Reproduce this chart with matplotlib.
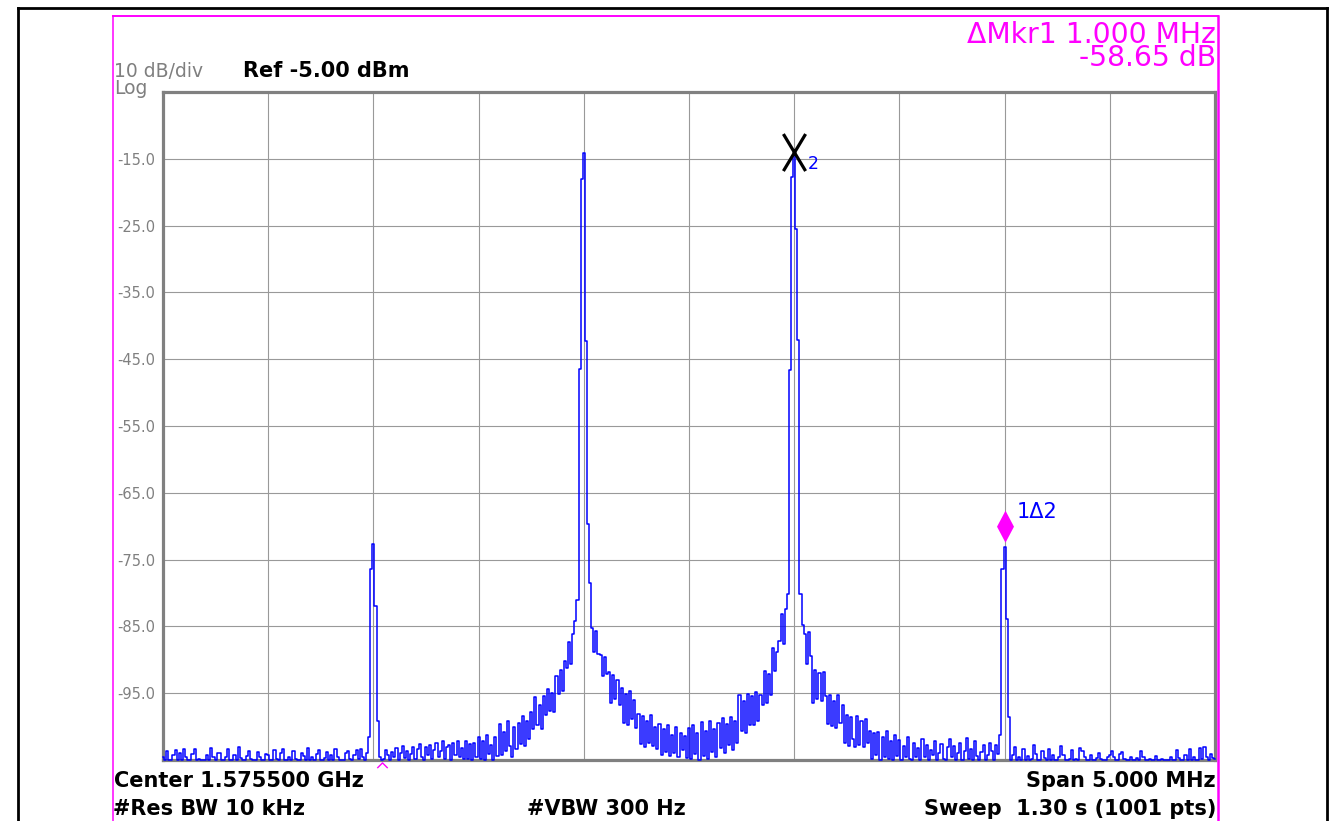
import numpy as np
import matplotlib
matplotlib.use("Agg")
import matplotlib.pyplot as plt
from matplotlib.path import Path
from matplotlib.lines import Line2D
import matplotlib.transforms as mtransforms

plt.rcParams["font.family"] = ["DejaVu Sans"]

# ---- instrument settings -------------------------------------------------
center_ghz = 1.5755
span_mhz = 5.0
ref_level_dbm = -5.0
db_per_div = 10.0
n_div = 10
level_ticks = [-15.0, -25.0, -35.0, -45.0, -55.0, -65.0, -75.0, -85.0, -95.0]

# ---- trace, one list per horizontal division (10 kHz per point) ----------
div0 = [-104.5, -105, -103.6, -105, -105, -104.2, -103.5, -105, -104, -105,
        -103.3, -104.6, -105, -105, -104.1, -103.4, -105, -104.8, -105, -105,
        -105, -104.3, -105, -103.2, -104.5, -105, -104, -103.9, -105, -105,
        -104.6, -103.4, -105, -105, -104.2, -105, -103.1, -104.7, -105, -105,
        -104.4, -103.6, -104.9, -105, -105, -103.8, -104.5, -105, -105, -104.1]
div1 = [-104.3, -105, -105, -103.5, -104.8, -105, -104, -103.3, -105, -105,
        -104.5, -105, -103.7, -104.9, -105, -105, -103.9, -104.4, -105, -103.2,
        -105, -104.6, -105, -104.1, -103.5, -105, -105, -104.7, -103.8, -105,
        -104.2, -105, -103.4, -104.6, -105, -105, -105, -104, -103.6, -104.8,
        -105, -104.3, -103.5, -104.9, -103.4, -104.5, -105, -104, -101.5, -76.4]
div2 = [-72.7, -82.0, -99.2, -104.5, -105, -104.8, -103.5, -104.2, -105, -103.8,
        -104.6, -103.2, -105, -104, -102.9, -104.7, -103.6, -105, -104.1, -103,
        -104.8, -103.4, -102.6, -104.5, -105, -103.1, -104.2, -102.8, -104.9, -103.5,
        -102.4, -104.6, -103.7, -102.2, -104.9, -103, -102.7, -105, -102.5, -104.2,
        -102.1, -104.6, -103.2, -104.9, -102.1, -104.8, -102.6, -105, -102.4, -104.6]
div3 = [-101.6, -104.8, -102.2, -105, -101.2, -104.1, -102.8, -105, -101.5, -104.4,
        -99.6, -104.3, -100.8, -103.7, -99.2, -102.9, -104.5, -100.1, -103.4, -99.5,
        -102.6, -98.4, -102.9, -99.1, -101.8, -97.8, -100.4, -95.6, -99.8, -96.7,
        -100.3, -95.4, -98.2, -94.3, -97.6, -94.9, -97.8, -92.4, -95.1, -91.6,
        -94.6, -90.2, -91.3, -87.4, -90.6, -86.1, -84.2, -81.0, -46.5, -18.0]
div4 = [-14.1, -42.3, -69.6, -78.5, -85.2, -88.9, -85.7, -89.1, -89.3, -92.4,
        -89.6, -92.2, -91.8, -96.4, -92.3, -95.9, -93.0, -96.8, -94.2, -99.4,
        -95.1, -99.8, -94.6, -98.9, -96.0, -100.2, -98.1, -102.6, -98.4, -103.1,
        -99.2, -102.4, -98.3, -102.9, -100.1, -103.3, -99.6, -104.2, -100.3, -103.8,
        -99.8, -104.4, -101.2, -103.9, -100.1, -104.6, -100.9, -103.5, -101.4, -104.7]
div5 = [-100.2, -104.8, -99.7, -104.1, -101.0, -105, -99.3, -104.4, -100.6, -104.9,
        -99.1, -103.8, -100.4, -104.6, -99.5, -103.2, -98.7, -103.9, -99.6, -102.8,
        -98.6, -103.5, -99.2, -102.4, -95.3, -100.6, -96.2, -100.9, -95.1, -99.7,
        -95.4, -99.8, -94.8, -99.2, -95.3, -96.8, -91.7, -96.4, -92.1, -95.2,
        -88.3, -91.7, -88.9, -87.2, -83.1, -87.6, -82.4, -80.1, -46.6, -17.7]
div6 = [-14.4, -25.5, -42.1, -80.2, -84.8, -86.1, -90.7, -85.9, -89.4, -96.5,
        -91.6, -95.8, -92.0, -96.1, -91.8, -95.4, -99.6, -95.2, -99.9, -96.1,
        -100.2, -95.3, -99.4, -96.8, -102.4, -98.2, -102.9, -98.6, -101.8, -103.1,
        -98.4, -102.7, -99.2, -103.0, -98.9, -102.5, -100.6, -104.9, -101.0, -104.3,
        -100.8, -105, -101.5, -104.6, -100.7, -104.8, -102.1, -105, -101.3, -104.4]
div7 = [-102.0, -105, -102.9, -104.6, -101.6, -104.8, -105, -102.4, -104.5, -103.2,
        -105, -101.9, -104.6, -102.7, -105, -103.5, -104.2, -102.1, -105, -103.9,
        -102.6, -104.8, -105, -103.1, -101.8, -104.5, -102.9, -105, -104, -102.4,
        -105, -103.6, -101.7, -104.9, -103.3, -105, -102.2, -104.4, -105, -103.8,
        -102.7, -105, -104.3, -102.5, -103.6, -105, -102.8, -104.1, -101.2, -76.4]
div8 = [-73.05, -83.9, -98.5, -105, -104.2, -103.1, -105, -104.6, -105, -103.3,
        -105, -104.4, -105, -104.8, -102.7, -104.1, -105, -105, -103.6, -104.7,
        -105, -103.4, -105, -104.3, -105, -105, -104.6, -102.9, -104.2, -105,
        -105, -104.8, -103.5, -105, -104.9, -105, -103.2, -103.6, -104.5, -105,
        -105, -104.2, -105, -105, -104.7, -103.9, -104.8, -105, -105, -104.6]
div9 = [-104.3, -103.6, -104.5, -105, -105, -104.1, -103.8, -104.9, -105, -105,
        -104.5, -105, -105, -104.7, -105, -103.7, -104.6, -105, -105, -104.9,
        -105, -105, -104.4, -105, -105, -104.8, -105, -105, -105, -104.6,
        -105, -105, -103.5, -104.7, -105, -105, -104.2, -105, -103.4, -105,
        -104.6, -105, -105, -103.2, -104.8, -103, -104.5, -105, -104.1, -104.7]
last_point = [-104.8]

# marker 2 sits on the carrier at +0.5 MHz, delta marker 1 one MHz above it
mkr2_offset_mhz = 0.5
delta_mhz = 1.000
ref_caret_mhz = -1.46

trace_db = np.array(div0 + div1 + div2 + div3 + div4 + div5 + div6 + div7
                    + div8 + div9 + last_point)
freq_mhz = np.linspace(-span_mhz / 2, span_mhz / 2, trace_db.size)

# ---- figure layout ----------------------------------------------------------
W, H = 1330, 821
fig = plt.figure(figsize=(W / 100, H / 100), dpi=100)
fig.patch.set_facecolor("white")


def fx(px):
    return px / W


def fy(py):
    return 1 - py / H


ax = fig.add_axes([fx(163), fy(760), fx(1215) - fx(163), fy(92) - fy(760)])
bottom_db = ref_level_dbm - n_div * db_per_div
ax.set_xlim(-span_mhz / 2, span_mhz / 2)
ax.set_ylim(bottom_db, ref_level_dbm)

ax.set_xticks(np.linspace(-span_mhz / 2, span_mhz / 2, n_div + 1))
ax.set_xticklabels([])
ax.set_yticks(level_ticks)
ax.set_yticklabels([f"{v:.1f}" for v in level_ticks])
ax.tick_params(axis="x", length=0)
ax.tick_params(axis="y", length=0, pad=5.8, labelsize=10.5, labelcolor="#808080")
ax.grid(True, color="#999999", lw=0.8)
ax.set_axisbelow(True)
for sp in ax.spines.values():
    sp.set_color("#808080")
    sp.set_linewidth(2.3)

# spectrum trace
ax.plot(freq_mhz, trace_db, drawstyle="steps-mid", color="#0000ff",
        lw=1.1, zorder=3, clip_on=False)

# marker 2 (normal marker, drawn as an X on the trace)
i2 = int(np.argmin(np.abs(freq_mhz - mkr2_offset_mhz)))
i1 = int(np.argmin(np.abs(freq_mhz - (mkr2_offset_mhz + delta_mhz))))
f2, v2 = freq_mhz[i2], trace_db[i2]
f1, v1 = freq_mhz[i1], trace_db[i1]

x_path = Path([(-0.3, -0.42), (0.3, 0.58), (-0.3, 0.58), (0.3, -0.42)],
              [Path.MOVETO, Path.LINETO, Path.MOVETO, Path.LINETO])
ax.plot([f2], [v2], ls="none", marker=x_path, ms=30.9, mew=2.3,
        mfc="none", mec="black", zorder=6, clip_on=False)
ax.annotate("2", (f2, v2), xytext=(10, -6.5), textcoords="offset points",
            ha="left", va="center", color="#0000ff", fontsize=12.5, zorder=6)

# delta marker 1 (diamond resting just above the spur)
diamond = Path([(0, 0.3), (0.53, 1.3), (0, 2.3), (-0.53, 1.3), (0, 0.3)],
               [Path.MOVETO, Path.LINETO, Path.LINETO, Path.LINETO, Path.CLOSEPOLY])
ax.plot([f1], [v1], ls="none", marker=diamond, ms=53, mew=0,
        mfc="#ff00ff", zorder=6, clip_on=False)
ax.annotate("1\u03942", (f1, v1), xytext=(8.8, 25), textcoords="offset points",
            ha="left", va="center", color="#0000ff", fontsize=15, zorder=6)

# small reference caret under the trace
caret = Path([(-1, -0.5), (0, 0.5), (1, -0.5)],
             [Path.MOVETO, Path.LINETO, Path.LINETO])
caret_tr = ax.transData + mtransforms.ScaledTranslation(0, -0.045, fig.dpi_scale_trans)
ax.plot([ref_caret_mhz], [bottom_db], ls="none", marker=caret, ms=7.5, mew=1.0,
        mfc="none", mec="#ff00ff", transform=caret_tr, zorder=6, clip_on=False)

# ---- frames -----------------------------------------------------------------
def fline(xs, ys, color, lw):
    fig.add_artist(Line2D([fx(x) for x in xs], [fy(y) for y in ys],
                          color=color, lw=lw, solid_capstyle="projecting"))


fline([18, 1327], [8, 8], "black", 2.0)
fline([18, 18], [8, 821], "black", 2.0)
fline([1327, 1327], [8, 821], "black", 2.0)
fline([113, 1218], [15.7, 15.7], "#ff00ff", 1.4)
fline([113, 113], [15.7, 821], "#ff00ff", 1.1)
fline([1218, 1218], [15.7, 821], "#ff00ff", 1.8)

# ---- annotation text ----------------------------------------------------------
gray = "#7f7f7f"
fig.text(fx(114), fy(77.3), f"{db_per_div:.0f} dB/div", color=gray,
         fontsize=13.5, va="baseline", ha="left")
fig.text(fx(114), fy(94.5), "Log", color=gray, fontsize=13.5, va="baseline", ha="left")
fig.text(fx(243), fy(77.3), f"Ref {ref_level_dbm:.2f} dBm", color="black",
         fontsize=15, fontweight="bold", va="baseline", ha="left")

fig.text(fx(1216), fy(43.0), f"\u0394Mkr1 {f1 - f2:.3f} MHz", color="#ff00ff",
         fontsize=20.3, va="baseline", ha="right")
fig.text(fx(1216), fy(65.8), f"{v1 - v2:.2f} dB", color="#ff00ff",
         fontsize=20.3, va="baseline", ha="right")

fig.text(fx(114), fy(787), f"Center {center_ghz:.6f} GHz", color="black",
         fontsize=15, fontweight="bold", va="baseline", ha="left")
fig.text(fx(1216), fy(787), f"Span {span_mhz:.3f} MHz", color="black",
         fontsize=15, fontweight="bold", va="baseline", ha="right")
fig.text(fx(113), fy(814.5), "#Res BW 10 kHz", color="black",
         fontsize=15, fontweight="bold", va="baseline", ha="left")
fig.text(fx(527), fy(814.5), "#VBW 300 Hz", color="black",
         fontsize=15, fontweight="bold", va="baseline", ha="left")
fig.text(fx(1216), fy(814.5), "Sweep  1.30 s (1001 pts)", color="black",
         fontsize=15, fontweight="bold", va="baseline", ha="right")

fig.savefig("out.png", dpi=100, facecolor="white")
